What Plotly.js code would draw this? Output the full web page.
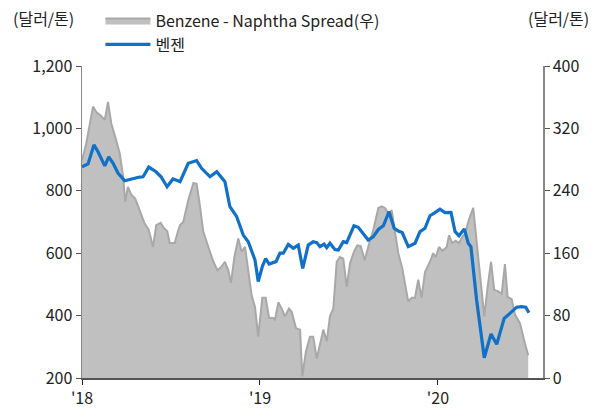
<!DOCTYPE html>
<html><head><meta charset="utf-8">
<script src="https://cdn.plot.ly/plotly-3.0.1.min.js"></script>
<style>html,body{margin:0;padding:0;background:#fff}#chart{width:604px;height:414px}</style>
</head><body><div id="chart"></div>
<script>
// time in decimal years
const benzeneT = [2018.000,2018.034,2018.067,2018.090,2018.128,2018.150,2018.174,2018.202,2018.240,2018.275,2018.324,2018.343,2018.375,2018.416,2018.444,2018.478,2018.511,2018.539,2018.551,2018.597,2018.644,2018.672,2018.719,2018.757,2018.803,2018.831,2018.869,2018.906,2018.934,2018.972,2018.990,2019.013,2019.032,2019.051,2019.090,2019.112,2019.131,2019.159,2019.187,2019.215,2019.240,2019.271,2019.299,2019.319,2019.337,2019.360,2019.375,2019.393,2019.421,2019.440,2019.468,2019.487,2019.506,2019.528,2019.552,2019.580,2019.608,2019.637,2019.665,2019.693,2019.725,2019.754,2019.777,2019.799,2019.833,2019.871,2019.899,2019.927,2019.955,2019.983,2020.011,2020.039,2020.073,2020.096,2020.118,2020.148,2020.170,2020.185,2020.217,2020.260,2020.298,2020.330,2020.372,2020.404,2020.442,2020.470,2020.493,2020.511];
const benzeneV = [877,886,947,925,880,909,889,857,832,838,844,845,876,861,845,813,838,832,829,888,897,872,845,861,829,749,717,658,637,578,509,557,583,565,573,600,600,628,616,626,551,626,637,634,621,629,618,632,612,610,637,634,658,688,683,664,642,653,676,688,733,680,671,666,621,632,669,680,720,730,741,730,731,669,656,678,632,621,450,265,341,308,391,407,427,429,427,409];

const spreadT = [2018.000,2018.024,2018.062,2018.080,2018.108,2018.128,2018.146,2018.165,2018.187,2018.212,2018.230,2018.243,2018.258,2018.277,2018.299,2018.324,2018.352,2018.375,2018.399,2018.417,2018.442,2018.461,2018.479,2018.493,2018.521,2018.539,2018.551,2018.569,2018.597,2018.626,2018.644,2018.663,2018.681,2018.710,2018.738,2018.762,2018.785,2018.803,2018.822,2018.837,2018.856,2018.878,2018.897,2018.916,2018.938,2018.953,2018.972,2018.990,2019.013,2019.032,2019.051,2019.075,2019.084,2019.103,2019.122,2019.140,2019.163,2019.178,2019.202,2019.225,2019.238,2019.258,2019.281,2019.299,2019.319,2019.337,2019.356,2019.375,2019.393,2019.412,2019.431,2019.449,2019.468,2019.487,2019.506,2019.528,2019.547,2019.566,2019.588,2019.608,2019.637,2019.665,2019.684,2019.702,2019.721,2019.740,2019.758,2019.777,2019.799,2019.815,2019.833,2019.852,2019.871,2019.889,2019.908,2019.927,2019.955,2019.973,2019.987,2020.006,2020.025,2020.049,2020.062,2020.080,2020.099,2020.118,2020.136,2020.152,2020.174,2020.198,2020.217,2020.236,2020.260,2020.279,2020.298,2020.316,2020.339,2020.358,2020.376,2020.391,2020.414,2020.433,2020.461,2020.489,2020.507];
const spreadV = [279,301,348,341,336,331,354,326,309,288,260,226,245,235,230,215,198,190,168,196,199,192,188,173,173,188,196,200,228,250,249,220,188,168,149,138,143,149,138,122,155,179,162,168,134,106,91,53,103,103,77,77,74,97,89,79,89,85,64,62,2,34,53,53,25,42,62,47,79,89,149,155,153,117,147,162,170,169,151,168,190,218,220,218,211,215,190,160,141,123,98,103,103,126,103,136,149,160,155,168,163,168,183,173,176,173,181,185,203,218,177,134,79,117,149,113,111,108,146,104,101,81,70,44,29];

const yearTicks = [2018, 2019, 2020];
const yearLabels = ["'18", "'19", "'20"];
const leftTicks = [200, 400, 600, 800, 1000, 1200];
const rightTicks = [0, 80, 160, 240, 320, 400];

const FONT = '"Noto Sans CJK KR", "Noto Sans", sans-serif';

const traces = [
  {x: spreadT, y: spreadV, yaxis: 'y', type: 'scatter', mode: 'lines',
   name: 'Benzene - Naphtha Spread(우)', fill: 'tozeroy', fillcolor: '#c0c0c0',
   line: {color: '#a8a8a8', width: 2}},
  {x: benzeneT, y: benzeneV, yaxis: 'y2', type: 'scatter', mode: 'lines', name: '벤젠',
   line: {color: '#1170c8', width: 3.2}}
];

const layout = {
  width: 604, height: 414,
  margin: {l: 82, r: 61, t: 66, b: 36, autoexpand: false},
  paper_bgcolor: '#fff', plot_bgcolor: '#fff',
  font: {family: FONT, size: 16, color: '#222'},
  showlegend: true,
  legend: {x: 0.04, y: 1.2, xanchor: 'left', yanchor: 'top', orientation: 'v',
    font: {family: FONT, size: 16, color: '#222'}, itemwidth: 45, tracegroupgap: 0,
    bgcolor: 'rgba(0,0,0,0)'},
  xaxis: {range: [2018, 2020.59], tickvals: yearTicks, ticktext: yearLabels,
    showgrid: false, zeroline: false, showline: true, linecolor: '#555', linewidth: 2,
    ticks: 'outside', ticklen: 5, tickcolor: '#222', tickfont: {size: 16}},
  // right axis: spread
  yaxis: {range: [0, 400], tickvals: rightTicks, side: 'right',
    showgrid: false, zeroline: false, showline: true, linecolor: '#888', linewidth: 1.5,
    ticks: 'outside', ticklen: 5, tickcolor: '#555', tickfont: {size: 16}},
  // left axis: benzene
  yaxis2: {range: [200, 1200], tickvals: leftTicks, tickformat: ',', overlaying: 'y', side: 'left',
    showgrid: false, zeroline: false, showline: true, linecolor: '#888', linewidth: 1.5,
    ticks: 'outside', ticklen: 5, tickcolor: '#555', tickfont: {size: 16}},
  annotations: [
    {text: '(달러/톤)', xref: 'paper', yref: 'paper', x: -0.155, y: 1.2, xanchor: 'left', yanchor: 'top',
     showarrow: false, font: {family: FONT, size: 16, color: '#222'}},
    {text: '(달러/톤)', xref: 'paper', yref: 'paper', x: 1.105, y: 1.2, xanchor: 'right', yanchor: 'top',
     showarrow: false, font: {family: FONT, size: 16, color: '#222'}}
  ]
};

Plotly.newPlot('chart', traces, layout, {displayModeBar: false, staticPlot: true});
</script></body></html>
